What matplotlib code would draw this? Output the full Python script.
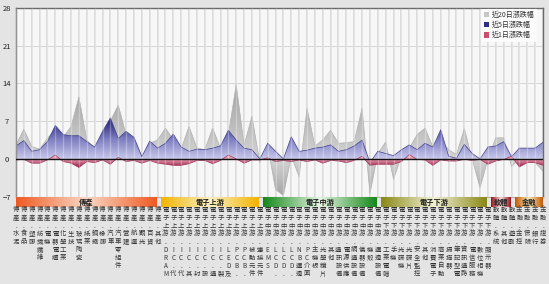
import numpy as np
import matplotlib
matplotlib.use("Agg")
import matplotlib.pyplot as plt
from matplotlib.colors import LinearSegmentedColormap, Normalize
from matplotlib.patches import Patch

plt.rcParams['font.family'] = ['Noto Sans CJK TC', 'DejaVu Sans']

# 產業分類
groups = ['傳產', '電子上游', '電子中游', '電子下游', '軟體', '金融']
trad = ['水泥', '食品', '塑膠', '紡織纖維', '電機', '電器電纜', '化學工業', '生技', '玻璃陶瓷',
        '紙業', '鋼鐵', '橡膠', '汽車', '汽車零組件', '營建', '航運', '觀光', '百貨', '其他']
up = ['DRAM', 'IC.代工', 'IC.代理', 'IC.其他', 'IC.封測', 'IC.設計', 'IC.通路', 'IC.製造',
      'LED及光元件', 'PCB.上游', 'PCB.下游', '被動元件', '連接元件']
mid = ['EMS', 'LCD.面板', 'LCD.零組件', 'LCD.其他', 'NB週邊', 'PC介面卡', '主機板', '光學鏡片',
       '其他', '通訊設備', '電源供應', '網通設備', '儀器設備', '機殼', '週邊設備']
down = ['工業電腦', '手機', '光碟機', '光碟片', '安全監控', '其他', '消費電子', '商業自動化',
        '掃描器', '筆記型電腦', '資訊通路', '電信服務', '數位相機', '顯示器']
soft = ['系統', '其他', '遊戲']
fin = ['金控', '保險', '銀行', '證券']
members = [trad, up, mid, down, soft, fin]

# 漲跌幅 (%)
chg_20d = [2.6, 5.5, 2.3, 1.8, 3.8, 5.5, 4.0, 6.0, 11.5, 3.5, 1.9, 4.5, 7.0, 10.0, 4.5, 4.0,
           0.4, 2.9, 3.5, 5.7, 3.6, 1.9, 6.0, 2.0, 1.7, 5.7, 2.0, 4.5, 13.8, 2.5, 7.9, -0.7,
           2.4, -5.7, -6.8, 0.5, -3.3, 9.4, 2.4, 3.5, 5.3, 2.9, 3.0, 3.2, 9.4, -6.5, 1.0, 3.1,
           -3.8, 0.5, 2.0, 4.5, 5.7, 2.2, 3.5, 1.7, 0.8, 5.6, 0.0, -5.4, 0.0, 3.9, 3.9, -1.4,
           -0.1, -0.4, -0.7, -2.3]
chg_5d = [2.4, 3.4, 1.4, 1.7, 3.2, 6.2, 4.5, 4.3, 4.3, 3.2, 2.2, 5.1, 7.6, 3.8, 5.1, 4.0,
          0.4, 3.3, 2.0, 2.9, 4.6, 2.2, 1.4, 1.8, 1.7, 2.0, 2.4, 5.3, 3.5, 2.0, 1.7, 0.0,
          2.9, 1.4, 0.0, 4.1, 1.4, 1.6, 2.0, 2.2, 2.6, 1.4, 1.7, 2.4, 3.5, -0.7, 1.4, 1.0,
          0.6, 1.7, 2.6, 1.7, 2.9, 2.2, 5.4, 0.5, 0.1, 2.7, 1.0, 0.0, 2.2, 2.4, 3.2, 0.4,
          2.0, 2.0, 2.0, 3.1]
chg_1d = [-0.2, -0.1, -0.8, -0.8, -0.2, 0.7, -0.5, -0.8, -1.6, -0.5, -0.7, -0.2, -1.0, 0.3,
          -0.5, -0.3, -0.8, -0.3, -0.8, -1.0, -1.2, -1.2, -0.9, -0.3, -0.3, -0.9, -0.3, 0.7,
          0.0, -0.8, -0.2, -0.2, 0.2, -0.5, -0.3, -0.5, -0.2, -0.5, -0.2, -0.8, -0.3, -0.4,
          -0.7, -0.3, 0.5, -1.2, -1.0, -1.0, -1.0, -0.5, 0.8, -0.1, -0.2, -1.2, -0.2, -0.4,
          -0.4, -0.1, -0.3, -0.1, -1.0, -0.4, -0.1, 0.5, -1.5, -0.7, -0.7, -1.2]

series_names = ['近20日漲跌幅', '近5日漲跌幅', '近1日漲跌幅']
band_edge = ['#ee5a22', '#f2b400', '#14881a', '#8a8814', '#9a1018', '#c25806']
band_mid = ['#fad8c6', '#faf0c4', '#e4f4e0', '#f2f2d6', '#f6dada', '#f8e6b2']


def gradient_fill(ax, x, y, cmap, lo, hi, z):
    poly = ax.fill_between(x, 0, y, facecolor='none', edgecolor='none', zorder=z)
    grad = np.linspace(-7, 28, 600).reshape(-1, 1)
    im = ax.imshow(grad, extent=[x[0], x[-1], -7, 28], origin='lower', aspect='auto',
                   cmap=cmap, norm=Normalize(lo, hi), interpolation='bilinear', zorder=z)
    im.set_clip_path(poly.get_paths()[0], transform=ax.transData)


W, H = 549, 284
fig = plt.figure(figsize=(W / 100, H / 100), dpi=100, facecolor='#e4e4e4')
ax = fig.add_axes([16 / W, 1 - 196.6 / H, 527 / W, 188.6 / H], facecolor='#f7f7f7')

n = len(chg_20d)
idx = np.arange(n)

ax.vlines(idx, -7, 28, color='#d2d2d2', lw=1.1, zorder=0.5)
ax.hlines([7, 14, 21], 0, n - 1, color='#d8d8d8', lw=0.8, zorder=0.5)

gray_cm = LinearSegmentedColormap.from_list('g', [(0, '#a4a4a4'), (7 / 21, '#d4d4d4'), (1, '#a0a0a0')])
blue_cm = LinearSegmentedColormap.from_list('b', ['#c8c8ec', '#7c7cc0', '#1a1a6e'])
red_cm = LinearSegmentedColormap.from_list('r', ['#861540', '#d57a96', '#f2c2ce'])

gradient_fill(ax, idx, chg_20d, gray_cm, -7, 14, 1)
gradient_fill(ax, idx, chg_5d, blue_cm, 0, 7.6, 2)
gradient_fill(ax, idx, chg_1d, red_cm, -1.6, 0.8, 3)
ax.plot(idx, chg_20d, color='#b0b0b0', lw=0.5, zorder=1.1)
ax.plot(idx, chg_5d, color='#40408e', lw=0.5, zorder=2.1)
ax.plot(idx, chg_1d, color='#a03458', lw=0.5, zorder=3.1)

ax.vlines(idx, -7, 28, color='white', lw=1.0, alpha=0.28, zorder=4)
ax.axhline(0, color='#111111', lw=1.0, zorder=6)

ax.set_xlim(0, n - 1)
ax.set_ylim(-7, 28)
ax.set_xticks([])
ax.set_yticks([-7, 0, 7, 14, 21, 28])
ax.tick_params(axis='y', length=0, pad=6.5, labelsize=5.5, labelcolor='#222222')
for lbl in ax.get_yticklabels():
    lbl.set_horizontalalignment('center')
for side in ['left', 'top', 'right']:
    ax.spines[side].set_color('#6a6a6a')
    ax.spines[side].set_linewidth(1.0)
ax.spines['bottom'].set_color('#b0b0b0')

handles = [Patch(facecolor='#c6c6c6'), Patch(facecolor='#2e2e86'), Patch(facecolor='#c8506e')]
leg = ax.legend(handles, series_names, loc='upper right', bbox_to_anchor=(0.989, 1.0),
                fontsize=5, frameon=True, facecolor='#fbfbfb', edgecolor='none', framealpha=1,
                handlelength=0.8, handleheight=0.8, handletextpad=0.3, labelspacing=0.3,
                borderpad=0.35, borderaxespad=0.1, fancybox=False)
for t in leg.get_texts():
    t.set_color('#333333')
leg.set_zorder(10)

# 類別色帶與產業名稱
bax = fig.add_axes([16 / W, 1 - 207 / H, 527 / W, 10 / H])
bax.set_xlim(0, n - 1)
bax.set_ylim(0, 1)
bax.axis('off')

pos = 0
for k, g in enumerate(groups):
    cnt = len(members[k])
    x0 = max(pos - 0.55, 0)
    x1 = min(pos + cnt - 1 - 0.1, n - 1)
    cm = LinearSegmentedColormap.from_list('band%d' % k, [band_edge[k], band_mid[k], band_edge[k]])
    bax.imshow(np.linspace(0, 1, 256).reshape(1, -1), extent=[x0, x1, 0, 1], aspect='auto',
               cmap=cm, interpolation='bilinear')
    bax.text((x0 + x1) / 2, 0.5, g, ha='center', va='center', fontsize=5.2,
             fontweight='bold', color='#222222')
    for j, name in enumerate(members[k]):
        chars = list(g + '.' + name)[:9]
        for r, ch in enumerate(chars):
            bax.annotate(ch, xy=(pos + j, 0), xycoords=('data', 'axes fraction'),
                         xytext=(0, -(2.5 + 8 * r)), textcoords='offset pixels',
                         ha='center', va='center', fontsize=4.6, color='#333333',
                         annotation_clip=False)
    pos += cnt
bax.set_xlim(0, n - 1)
bax.set_ylim(0, 1)

fig.savefig('out.png', dpi=100, facecolor=fig.get_facecolor())
